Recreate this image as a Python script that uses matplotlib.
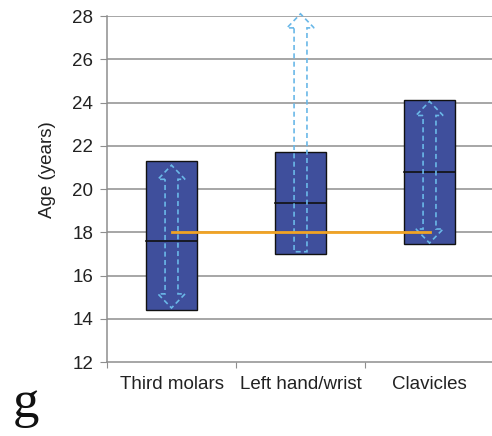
import matplotlib
matplotlib.use("Agg")
import matplotlib.pyplot as plt
from matplotlib.patches import Polygon, Rectangle

plt.rcParams['font.family'] = ['Liberation Sans', 'DejaVu Sans']

categories = ["Third molars", "Left hand/wrist", "Clavicles"]
box_low = [14.4, 17.0, 17.45]
box_high = [21.3, 21.7, 24.1]
box_median = [17.6, 19.35, 20.8]
arrow_low = [14.5, 17.1, 17.5]
arrow_high = [21.1, 28.1, 24.05]
arrow_double = [True, False, True]
threshold = 18.0
yticks = [12, 14, 16, 18, 20, 22, 24, 26, 28]

fig = plt.figure(figsize=(4.92, 4.36), dpi=100)
ax = fig.add_axes([0.2175, 0.1697, 0.7866, 0.7936])

box_w = 0.40
shaft_w = 0.10
head_w = 0.21
head_len = 0.65
box_color = "#3f4f9c"
arrow_color = "#6ab8e8"
grid_color = "#8e8e8e"
text_color = "#222222"

ax.set_xlim(-0.5, len(categories) - 0.5)
ax.set_ylim(12, 28)

for yv in yticks[1:]:
    ax.axhline(yv, color=grid_color, lw=1.1, zorder=0)

for i in range(len(categories)):
    ax.add_patch(Rectangle((i - box_w / 2, box_low[i]), box_w, box_high[i] - box_low[i],
                           facecolor=box_color, edgecolor="#111111", lw=1.0, zorder=2))
    ax.plot([i - box_w / 2, i + box_w / 2], [box_median[i]] * 2, color="#111111", lw=1.2, zorder=3)

for i in range(len(categories)):
    lo, hi = arrow_low[i], arrow_high[i]
    s, h = shaft_w / 2, head_w / 2
    pts = [(i - s, hi - head_len), (i - h, hi - head_len), (i, hi), (i + h, hi - head_len),
           (i + s, hi - head_len)]
    if arrow_double[i]:
        pts += [(i + s, lo + head_len), (i + h, lo + head_len), (i, lo), (i - h, lo + head_len),
                (i - s, lo + head_len)]
    else:
        pts += [(i + s, lo), (i - s, lo)]
    ax.add_patch(Polygon(pts, closed=True, fill=False, edgecolor=arrow_color, lw=1.2,
                         linestyle=(0, (3, 2)), zorder=4, clip_on=False))

ax.plot([0, len(categories) - 1], [threshold, threshold], color="#f0a325", lw=2, zorder=5)

ax.set_yticks(yticks)
ax.set_yticklabels([str(v) for v in yticks], fontsize=13.5, color=text_color)
ax.set_xticks([i + 0.5 for i in range(-1, len(categories))], minor=False)
ax.set_xticklabels([])
ax.set_xticks(range(len(categories)), minor=True)
ax.set_xticklabels(categories, minor=True, fontsize=13.5, color=text_color)
ax.tick_params(axis='x', which='minor', length=0, pad=10)
ax.tick_params(axis='x', which='major', length=4, color=grid_color, direction='out')
ax.tick_params(axis='y', length=5, color=grid_color, direction='out', pad=5)

for sp in ["top", "right"]:
    ax.spines[sp].set_visible(False)
for sp in ["left", "bottom"]:
    ax.spines[sp].set_color(grid_color)
    ax.spines[sp].set_linewidth(1.1)

ax.set_ylabel("Age (years)", fontsize=13.5, color=text_color, va="center")
ax.yaxis.set_label_coords(-0.155, 0.555)

fig.text(0.026, 0.044, "g", fontsize=38, color="#111111", family="Liberation Serif")

fig.savefig("out.png", dpi=100)
